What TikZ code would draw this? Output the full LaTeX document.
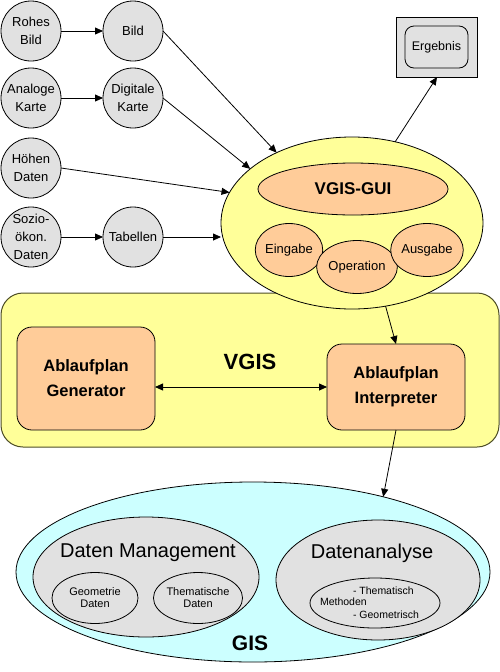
\documentclass[tikz,border=0pt]{standalone}
\usepackage{fontspec}
\setmainfont{Liberation Sans}
\usetikzlibrary{arrows.meta,shapes.geometric}
\definecolor{cgray}{HTML}{E1E1E1}
\definecolor{cyel}{HTML}{FFFF99}
\definecolor{corange}{HTML}{FFCC99}
\definecolor{ccyan}{HTML}{CCFFFF}
\definecolor{colive}{HTML}{4D4D26}
\begin{document}
\begin{tikzpicture}[x=1pt,y=-1pt,
  every node/.style={inner sep=0pt,outer sep=0pt},
  src/.style={circle,draw=black,line width=0.8pt,fill=cgray,minimum size=60pt,align=center,
    font=\fontsize{13}{18}\selectfont},
  arr/.style={-{Triangle[length=8pt,width=7pt]},line width=0.8pt},
  darr/.style={{Triangle[length=8pt,width=7pt]}-{Triangle[length=8pt,width=7pt]},line width=0.8pt},
  orel/.style={ellipse,draw=black,line width=0.8pt,fill=corange,minimum width=61pt,minimum height=53pt,
    font=\fontsize{13}{15}\selectfont},
  obox/.style={rectangle,rounded corners=15pt,draw=black,line width=0.8pt,fill=corange,align=center,
    minimum width=138pt,font=\bfseries\fontsize{16.5}{25}\selectfont},
  grel/.style={ellipse,draw=black,line width=0.8pt,fill=cgray},
  small/.style={align=center,font=\fontsize{11}{12}\selectfont}
]
\useasboundingbox (0,0) rectangle (500,672);

% source circles
\node[src] (c1) at (31,31) {Rohes\\Bild};
\node[src] (c2) at (31,98) {Analoge\\Karte};
\node[src] (c3) at (31,168) {Höhen\\Daten};
\node[src] (c4) at (31,237) {Sozio-\\ökon.\\Daten};
\node[src] (d1) at (133,31) {Bild};
\node[src] (d2) at (133,98) {Digitale\\Karte};
\node[src] (d4) at (133,237) {Tabellen};

% Ergebnis
\node[rectangle,draw=black,line width=0.8pt,fill=cgray,minimum width=81pt,minimum height=60pt] (ergbox) at (437,47) {};
\node[rectangle,rounded corners=9pt,draw=black,line width=0.8pt,fill=cgray,minimum width=63pt,minimum height=42pt,
  font=\fontsize{12.5}{15}\selectfont] (erg) at (436.5,47) {Ergebnis};

% VGIS rectangle
\node[rectangle,rounded corners=22pt,draw=colive,line width=1pt,fill=cyel,minimum width=498pt,minimum height=154pt] (vgis) at (250,370) {};
\node[font=\bfseries\fontsize{22}{24}\selectfont] (vgislabel) at (250,362) {VGIS};

% GUI ellipse
\node[ellipse,draw=black,line width=0.8pt,fill=cyel,minimum width=262pt,minimum height=172pt] (gui) at (352,223) {};
\node[ellipse,draw=black,line width=0.8pt,fill=corange,minimum width=190pt,minimum height=52pt,
  font=\bfseries\fontsize{17}{19}\selectfont] (guititle) at (353,189) {VGIS-GUI};
\node[orel] (ein) at (289,250) {Eingabe};
\node[orel] (op) at (357,267) {Operation};
\node[orel] (aus) at (427,250) {Ausgabe};

% Ablaufplan boxes
\node[obox,minimum height=103pt] (gen) at (86,378.5) {Ablaufplan\\Generator};
\node[obox,minimum height=86pt] (int) at (396,387) {Ablaufplan\\Interpreter};

% GIS
\node[ellipse,draw=black,line width=0.8pt,fill=ccyan,minimum width=474pt,minimum height=180pt] (gis) at (253,572) {};
\node[grel,minimum width=226pt,minimum height=120pt] (dm) at (146,577) {};
\node[grel,minimum width=86pt,minimum height=51pt,small] (geo) at (95,598) {Geometrie\\Daten};
\node[grel,minimum width=86pt,minimum height=51pt,small] (them) at (198,598) {Thematische\\Daten};
\node[grel,minimum width=204pt,minimum height=120pt] (da) at (378,580) {};
\node[grel,minimum width=130pt,minimum height=50pt] (meth) at (375,603) {};
\node[font=\fontsize{20}{22}\selectfont] (dmlabel) at (148,553) {Daten Management};
\node[font=\fontsize{20}{22}\selectfont] (dalabel) at (372,553) {Datenanalyse};
\node[font=\fontsize{10.5}{12}\selectfont,anchor=west] (t1) at (353,591) {- Thematisch};
\node[font=\fontsize{10.5}{12}\selectfont,anchor=west] (t2) at (320,602) {Methoden};
\node[font=\fontsize{10.5}{12}\selectfont,anchor=west] (t3) at (353,615) {- Geometrisch};
\node[font=\bfseries\fontsize{21}{23}\selectfont] (gislabel) at (250,643) {GIS};

% connectors
\draw[arr] (c1) -- (d1);
\draw[arr] (c2) -- (d2);
\draw[arr] (c4) -- (d4);
\draw[arr] (d1.east) -- (gui.137);
\draw[arr] (d2.east) -- (gui.152);
\draw[arr] (c3.east) -- (gui.166);
\draw[arr] (d4) -- (d4 -| gui.west);
\draw[arr] (gui.62) -- (ergbox.south);
\draw[arr] (gui.-68) -- (int.north);
\draw[darr] (int.west -| gen.east) -- (int.west);
\draw[arr] (int.south) -- (gis.30);
\end{tikzpicture}
\end{document}
